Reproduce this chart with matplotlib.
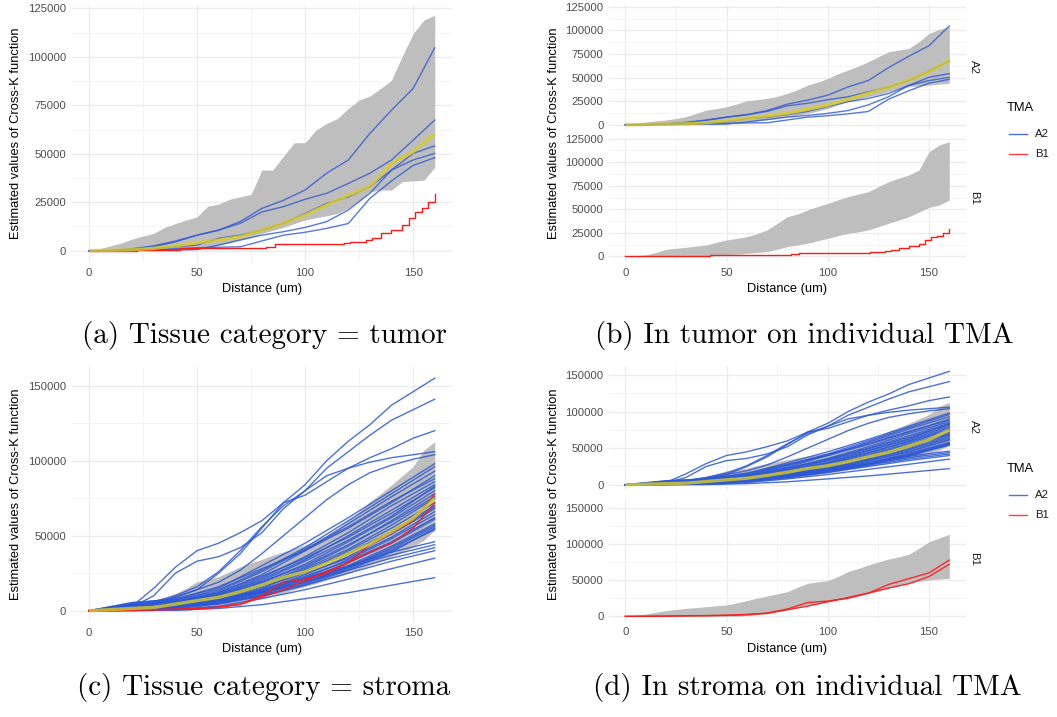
import numpy as np
import matplotlib.pyplot as plt
from matplotlib.ticker import MultipleLocator, FuncFormatter
from matplotlib.lines import Line2D

plt.rcParams['font.family'] = ['Liberation Sans', 'DejaVu Sans']

W, H = 1057, 717
fig = plt.figure(figsize=(W / 100, H / 100), dpi=100)

# ---- colours ----
blue = '#2C58D4'
red = '#FF1A1A'
yellow = '#D9CC25'
env_grey = '#BEBEBE'
tick_grey = '#4D4D4D'

# ---- distance grids ----
dist5 = np.arange(0, 161, 5)
dist10 = np.arange(0, 161, 10)
dist20 = np.arange(0, 161, 20)

# ---- tumor: envelopes (5 um steps) ----
tum_all_hi = [0, 1000, 2500, 4000, 6000, 7500, 9000, 12000, 14000, 15800, 17500, 23000, 24000,
              26500, 27800, 29000, 41600, 41600, 48800, 55700, 55700, 62200, 65700, 68200,
              73400, 77700, 79800, 83700, 88000, 100400, 112000, 119000, 121500]
tum_all_lo = [0, 0, 0, 0, 0, 0, 0, 0, 0, 200, 500, 1500, 2900, 4000, 5500, 7000, 8900, 10500,
              12000, 14000, 15800, 17000, 18000, 19200, 22000, 26000, 30400, 31300, 31300,
              35600, 36000, 36400, 43000]
tum_a2_hi = [0, 1500, 2800, 4000, 5000, 6500, 8500, 12000, 15500, 17000, 19000, 22000, 25400,
             26500, 27900, 30000, 33200, 37000, 42000, 45000, 49000, 54000, 57900, 62000,
             66700, 72000, 77300, 79000, 80900, 88000, 96700, 101000, 103800]
tum_a2_lo = [0, 0, 0, 0, 0, 0, 0, 0, 0, 1000, 2100, 2600, 3200, 4000, 5000, 6500, 8500, 10000,
             12000, 14500, 17300, 21000, 24400, 27000, 29700, 32000, 35000, 38000, 40300,
             41000, 42000, 43000, 43800]
tum_b1_hi = [0, 700, 1400, 4000, 7400, 8500, 9600, 10800, 12000, 15000, 17400, 19000, 20900,
             24000, 28000, 35000, 42100, 45000, 49200, 53000, 56300, 60000, 63400, 66000,
             68700, 74000, 79300, 83000, 86400, 91700, 111200, 118300, 121800]
tum_b1_lo = [0, 0, 0, 0, 0, 0, 0, 0, 0, 700, 1400, 2300, 3200, 4000, 5000, 7500, 10300, 12000,
             13800, 16500, 19100, 22000, 24400, 26000, 28000, 31500, 35100, 38500, 42100,
             47000, 52100, 54500, 59800]

# ---- tumor: means (10 um steps) ----
tum_all_mean = [0, 200, 500, 1200, 2500, 4100, 5500, 7200, 10600, 14100, 18400, 23500, 28700,
                33000, 45000, 51000, 60500]
tum_a2_mean = [0, 200, 500, 1000, 2000, 4200, 6700, 9200, 12000, 16200, 20800, 26800, 33200,
               39500, 47300, 56100, 67800]

# ---- tumor: A2 samples (10 um steps) ----
tum_a2_curves = [
    [0, 0, 1000, 2500, 5000, 8000, 10600, 15000, 21800, 26000, 31300, 40000, 46800, 60500, 72500, 83700, 104700],
    [0, 0, 800, 2000, 4500, 8000, 10600, 14100, 20000, 22700, 26500, 29600, 34700, 40000, 46800, 57000, 67400],
    [0, 0, 300, 1000, 2000, 2900, 6400, 8000, 10600, 14100, 19200, 24400, 27800, 33000, 41600, 50200, 54100],
    [0, 0, 300, 500, 500, 600, 2900, 5500, 8000, 9800, 12000, 15000, 21000, 29600, 41600, 46800, 50200],
    [0, 0, 200, 500, 1000, 1500, 1800, 2000, 5000, 8000, 9500, 11500, 14000, 27000, 36000, 44000, 48000],
]
# ---- tumor: B1 sample (step break points) ----
tum_b1_x = [0, 22, 42, 82, 86, 118, 121, 128, 131, 135, 140, 145, 148, 151, 154, 157, 160]
tum_b1_y = [0, 400, 1200, 2000, 3500, 4000, 4600, 5500, 6500, 8900, 10600, 13000, 17000, 20000,
            22000, 25000, 29200]

# ---- stroma: envelopes (5 um steps) ----
str_a2_hi = [0, 800, 1600, 4000, 6000, 6500, 7100, 9000, 11600, 15000, 19300, 21000, 22700,
             26000, 29300, 32000, 34200, 37000, 39300, 41500, 43800, 47000, 50400, 55000,
             60400, 66000, 72700, 78000, 83800, 90000, 96000, 107100, 112700]
str_a2_lo = [0, 0, 0, 0, 0, 0, 0, 0, 0, 0, 900, 1800, 2700, 4000, 5300, 6800, 8200, 10000,
             11600, 14000, 16000, 18000, 20400, 22500, 24900, 27500, 30400, 33000, 36000,
             39000, 42700, 47000, 53800]
str_b1_hi = [0, 1600, 3200, 5500, 7800, 9400, 11000, 12000, 13300, 14500, 15600, 18500, 21600,
             25000, 28100, 31000, 34000, 40000, 45500, 47500, 49200, 55000, 61700, 66000,
             70900, 75000, 79100, 82000, 85600, 94000, 103000, 108000, 113600]
str_b1_lo = [0, 0, 0, 0, 0, 0, 0, 0, 0, 0, 0, 0, 1000, 2500, 4100, 6500, 8700, 11500, 14300,
             17000, 20200, 22500, 24800, 28000, 31700, 35000, 38600, 42000, 45500, 48000,
             50200, 51500, 52500]
str_mean = [0, 700, 1500, 2200, 4400, 6700, 8900, 12700, 17100, 22200, 26000, 31600, 38200,
            44400, 52700, 61500, 74900]

# ---- stroma: B1 samples (10 um steps) ----
str_b1_curves = [
    [0, 0, 300, 800, 1000, 1500, 2500, 4500, 10000, 19000, 21000, 25000, 32000, 44000, 52000, 60000, 77700],
    [0, 0, 200, 500, 800, 1200, 2200, 4000, 9000, 14000, 20000, 26000, 32000, 39000, 45000, 55000, 71800],
]
# ---- stroma: A2 outlying samples (10 um steps) ----
str_a2_high = [
    [0, 500, 2000, 5000, 9000, 14000, 25000, 38000, 55000, 72000, 84000, 100000, 113000, 124000, 137000, 146000, 155000],
    [0, 500, 2500, 6000, 10000, 16000, 26000, 40000, 56000, 70000, 80000, 95000, 106000, 117000, 127000, 134000, 141000],
    [0, 1000, 3000, 15000, 29000, 40000, 45000, 52000, 60000, 72000, 77000, 86000, 95000, 102000, 108000, 115000, 120000],
    [0, 800, 2500, 10000, 25000, 33000, 36000, 42000, 52000, 68000, 80000, 90000, 95000, 99000, 102000, 104000, 106000],
    [0, 500, 1500, 4000, 9000, 14000, 19000, 27000, 38000, 50000, 62000, 74000, 84000, 92000, 97000, 101000, 104000],
]
# ---- stroma: A2 bundle samples (20 um steps) ----
str_a2_curves = [
    [0, 5000, 8000, 15000, 30000, 45000, 62000, 80000, 98000],
    [0, 4500, 7000, 14000, 27000, 42000, 60000, 78000, 96000],
    [0, 3000, 6000, 12000, 24000, 40000, 58000, 76000, 93000],
    [0, 5500, 7500, 16000, 28000, 40000, 55000, 72000, 90000],
    [0, 3500, 6500, 13000, 26000, 41000, 56000, 73000, 88000],
    [0, 3000, 5000, 11000, 22000, 36000, 52000, 70000, 86000],
    [0, 2500, 4500, 10000, 21000, 34000, 50000, 67000, 84000],
    [0, 4000, 6000, 12000, 23000, 35000, 49000, 65000, 82000],
    [0, 3000, 5500, 11000, 20000, 33000, 47000, 63000, 83000],
    [0, 2500, 4000, 9000, 19000, 31000, 46000, 62000, 80000],
    [0, 2000, 3500, 8000, 17000, 29000, 43000, 60000, 78000],
    [0, 4000, 5500, 10000, 19000, 30000, 44000, 59000, 76000],
    [0, 3500, 5000, 9500, 18000, 28000, 41000, 57000, 75000],
    [0, 1500, 3000, 7000, 15000, 26000, 40000, 55000, 72000],
    [0, 2500, 4000, 8000, 16000, 27000, 38000, 53000, 70000],
    [0, 3000, 4500, 9000, 17000, 27000, 39000, 52000, 69000],
    [0, 1200, 2500, 6000, 14000, 24000, 36000, 51000, 68000],
    [0, 3000, 4500, 8500, 16000, 25000, 35000, 49000, 66000],
    [0, 1500, 2800, 6500, 13000, 22000, 34000, 48000, 64000],
    [0, 2000, 3500, 7000, 14000, 23000, 33000, 46000, 62000],
    [0, 1200, 2500, 5500, 12000, 21000, 32000, 45000, 61000],
    [0, 2000, 3000, 6000, 12500, 20000, 30000, 43000, 58000],
    [0, 2500, 3500, 6500, 12000, 19000, 29000, 42000, 57000],
    [0, 800, 2000, 5000, 11000, 19000, 29000, 41000, 56000],
    [0, 1500, 2500, 5000, 10000, 18000, 28000, 40000, 54000],
    [0, 1000, 2200, 4500, 9500, 17000, 27000, 39000, 55000],
    [0, 600, 2500, 7500, 14000, 22000, 30000, 39000, 46000],
    [0, 500, 2000, 6500, 13000, 21000, 29000, 37000, 44000],
    [0, 400, 1500, 5500, 12000, 19000, 27000, 35000, 42000],
    [0, 300, 1200, 4500, 10500, 17000, 25000, 33000, 40000],
    [0, 100, 800, 3000, 8000, 14000, 21000, 28000, 35000],
    [0, 0, 300, 1500, 4000, 8000, 12000, 17000, 22000],
]


def px_axes(left, right, top, bottom):
    return fig.add_axes([left / W, 1 - bottom / H, (right - left) / W, (bottom - top) / H])


def style(ax, ylim, ymaj, show_x=True):
    ax.set_xlim(-8, 168)
    ax.set_ylim(*ylim)
    ax.xaxis.set_major_locator(MultipleLocator(50))
    ax.xaxis.set_minor_locator(MultipleLocator(25))
    ax.yaxis.set_major_locator(MultipleLocator(ymaj))
    ax.yaxis.set_minor_locator(MultipleLocator(ymaj / 2))
    ax.yaxis.set_major_formatter(FuncFormatter(lambda v, p: '%d' % v))
    ax.grid(which='major', color='#EBEBEB', lw=0.9)
    ax.grid(which='minor', color='#F3F3F3', lw=0.6)
    ax.set_axisbelow(True)
    for s in ax.spines.values():
        s.set_visible(False)
    ax.tick_params(which='both', length=0, labelsize=8.2, labelcolor=tick_grey)
    ax.tick_params(axis='y', pad=4)
    ax.tick_params(axis='x', pad=4)
    if not show_x:
        ax.tick_params(axis='x', labelbottom=False)


def envelope(ax, lo, hi):
    ax.fill_between(dist5, lo, hi, color=env_grey, lw=0, zorder=1)


def curves(ax, xs, ys_list, color, lw=1.0, alpha=0.8):
    for ys in ys_list:
        ax.plot(xs, ys, color=color, lw=lw, alpha=alpha, zorder=2)


def mean_line(ax, ys):
    ax.plot(dist10, ys, color=yellow, lw=2.4, alpha=0.8, zorder=4, solid_capstyle='butt')


ylab = 'Estimated values of Cross-K function'
xlab = 'Distance (um)'
tum_lim = (-6050, 127050)
str_lim = (-7750, 162750)

# ---- (a) ----
ax = px_axes(71.7, 452, 4.5, 262.4)
style(ax, tum_lim, 25000)
envelope(ax, tum_all_lo, tum_all_hi)
curves(ax, dist10, tum_a2_curves, blue)
ax.plot(tum_b1_x, tum_b1_y, drawstyle='steps-post', color=red, lw=1.0, zorder=3)
mean_line(ax, tum_all_mean)
fig.text(16 / W, 1 - 133.5 / H, ylab, rotation=90, ha='center', va='center', fontsize=9.3)
fig.text(262 / W, 1 - 289 / H, xlab, ha='center', va='center', fontsize=9.3)

# ---- (b) ----
ax = px_axes(609.1, 965.5, 4.8, 130.4)
style(ax, tum_lim, 25000, show_x=False)
envelope(ax, tum_a2_lo, tum_a2_hi)
curves(ax, dist10, tum_a2_curves, blue)
mean_line(ax, tum_a2_mean)
ax = px_axes(609.1, 965.5, 136.8, 262.0)
style(ax, tum_lim, 25000)
envelope(ax, tum_b1_lo, tum_b1_hi)
ax.plot(tum_b1_x, tum_b1_y, drawstyle='steps-post', color=red, lw=1.0, zorder=3)
fig.text(554 / W, 1 - 133.5 / H, ylab, rotation=90, ha='center', va='center', fontsize=9.3)
fig.text(787 / W, 1 - 289 / H, xlab, ha='center', va='center', fontsize=9.3)

# ---- (c) ----
ax = px_axes(71.7, 452, 366.6, 622.3)
style(ax, str_lim, 50000)
envelope(ax, str_a2_lo, str_a2_hi)
curves(ax, dist20, str_a2_curves, blue, alpha=0.85)
curves(ax, dist10, str_a2_high, blue, alpha=0.85)
curves(ax, dist10, str_b1_curves, red, alpha=0.9)
mean_line(ax, str_mean)
fig.text(16 / W, 1 - 494.5 / H, ylab, rotation=90, ha='center', va='center', fontsize=9.3)
fig.text(262 / W, 1 - 649 / H, xlab, ha='center', va='center', fontsize=9.3)

# ---- (d) ----
ax = px_axes(609.1, 965.5, 365.7, 490.4)
style(ax, str_lim, 50000, show_x=False)
envelope(ax, str_a2_lo, str_a2_hi)
curves(ax, dist20, str_a2_curves, blue, alpha=0.85)
curves(ax, dist10, str_a2_high, blue, alpha=0.85)
mean_line(ax, str_mean)
ax = px_axes(609.1, 965.5, 498.5, 621.9)
style(ax, str_lim, 50000)
envelope(ax, str_b1_lo, str_b1_hi)
curves(ax, dist10, str_b1_curves, red, alpha=0.9)
fig.text(554 / W, 1 - 494 / H, ylab, rotation=90, ha='center', va='center', fontsize=9.3)
fig.text(787 / W, 1 - 649 / H, xlab, ha='center', va='center', fontsize=9.3)

# ---- facet strips and legends ----
for y_a2, y_b1, y_leg in [(67, 198, 108), (427, 559, 469)]:
    fig.text(974 / W, 1 - y_a2 / H, 'A2', rotation=270, ha='center', va='center',
             fontsize=8.2, color='#1A1A1A')
    fig.text(974 / W, 1 - y_b1 / H, 'B1', rotation=270, ha='center', va='center',
             fontsize=8.2, color='#1A1A1A')
    fig.text(1007 / W, 1 - y_leg / H, 'TMA', ha='left', va='center', fontsize=9.3)
    for dy, col, lab in [(26, blue, 'A2'), (46, red, 'B1')]:
        yy = 1 - (y_leg + dy) / H
        fig.add_artist(Line2D([1009 / W, 1027 / W], [yy, yy], color=col, lw=1.0, alpha=0.85))
        fig.text(1035 / W, yy, lab, ha='left', va='center', fontsize=8.2, color='#1A1A1A')

# ---- captions ----
cap = dict(ha='center', va='center', fontsize=21, family='cmr10')
fig.text(264 / W, 1 - 336 / H, '(a) Tissue category = tumor', **cap)
fig.text(804 / W, 1 - 336 / H, '(b) In tumor on individual TMA', **cap)
fig.text(264 / W, 1 - 688 / H, '(c) Tissue category = stroma', **cap)
fig.text(807 / W, 1 - 688 / H, '(d) In stroma on individual TMA', **cap)

fig.savefig('out.png', dpi=100, facecolor='white')
